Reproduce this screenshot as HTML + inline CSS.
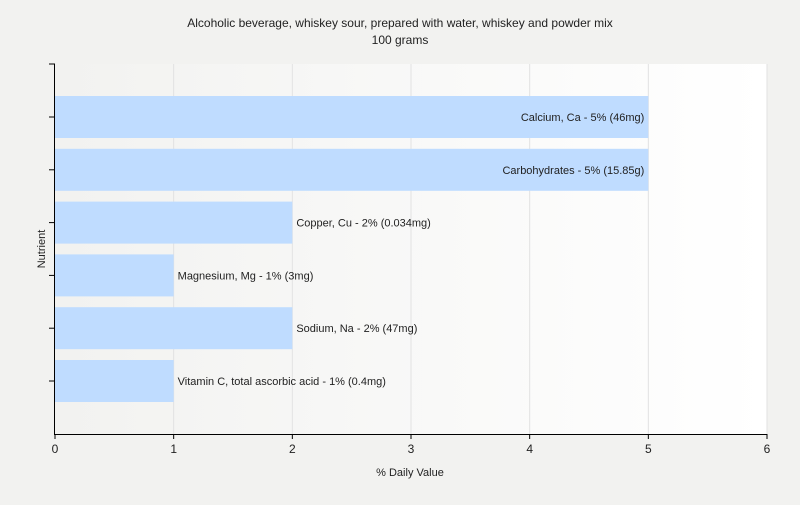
<!DOCTYPE html>
<html><head><meta charset="utf-8"><style>
body{margin:0;background:#f2f2f0;font-family:"Liberation Sans",Arial,sans-serif}
</style></head><body>
<svg id="c" width="800" height="500" xmlns="http://www.w3.org/2000/svg">
<defs><linearGradient id="g" x1="0" x2="1" y1="0" y2="0"><stop offset="0" stop-color="#f2f2f0"/><stop offset="1" stop-color="#ffffff"/></linearGradient></defs>
<rect x="0" y="0" width="800" height="500" fill="#f2f2f0"/>
<rect x="55" y="64" width="712" height="370" fill="url(#g)"/>
<text x="400" y="27" text-anchor="middle" font-size="12" fill="#222">Alcoholic beverage, whiskey sour, prepared with water, whiskey and powder mix</text>
<text x="400" y="44" text-anchor="middle" font-size="12" fill="#222">100 grams</text>
<text x="410" y="476" text-anchor="middle" font-size="11" fill="#222">% Daily Value</text>
<text transform="translate(45,249) rotate(-90)" text-anchor="middle" font-size="11" fill="#222">Nutrient</text>
<g id="grid"></g><g id="bars"></g><g id="axes"></g>
</svg>
<script>
const categories=["Calcium, Ca - 5% (46mg)","Carbohydrates - 5% (15.85g)","Copper, Cu - 2% (0.034mg)","Magnesium, Mg - 1% (3mg)","Sodium, Na - 2% (47mg)","Vitamin C, total ascorbic acid - 1% (0.4mg)"];
const values=[5,5,2,1,2,1];
const xTicks=[0,1,2,3,4,5,6];
const NS="http://www.w3.org/2000/svg";
const x0=55,x1=767,xMax=6,yTop=64,yBot=434,firstC=117,pitch=52.8,bh=42;
const xs=v=>x0+(x1-x0)*v/xMax;
const yc=i=>firstC+i*pitch;
function mk(t,a,p){const e=document.createElementNS(NS,t);for(const k in a)e.setAttribute(k,a[k]);p.appendChild(e);return e;}
const grid=document.getElementById('grid'),bars=document.getElementById('bars'),axes=document.getElementById('axes');
xTicks.forEach(t=>{
 if(t>0){const l=mk('line',{x1:xs(t),x2:xs(t),y1:yTop,y2:yBot,stroke:'#e2e2e2'},grid);
 
 }
 const k=mk('line',{x1:xs(t),x2:xs(t),y1:yBot,y2:yBot+5,stroke:'#000'},axes);
 
 
 const tx=mk('text',{x:xs(t),y:yBot+19,'text-anchor':'middle','font-size':12,fill:'#222'},axes);tx.textContent=t;
 
 
});
const ytk=[yTop].concat(categories.map((c,i)=>yc(i)));
ytk.forEach(y=>{const k=mk('line',{x1:49,x2:55,y1:y,y2:y,stroke:'#000'},axes);
 
 });
categories.forEach((c,i)=>{
 const w=xs(values[i])-x0;
 const r=mk('rect',{x:x0,y:yc(i)-bh/2,width:w,height:bh,fill:'#bfdcff'},bars);
 
 
 const inside=values[i]>=4;
 const t=mk('text',{x:inside?xs(values[i])-4:xs(values[i])+4,y:yc(i)+4,'text-anchor':inside?'end':'start','font-size':11,fill:'#222'},bars);
 t.textContent=c;
 
 
});
const ax=mk('line',{x1:54.5,x2:54.5,y1:yTop,y2:yBot,stroke:'#000'},axes);


const bx=mk('line',{x1:54,x2:x1,y1:yBot+0.5,y2:yBot+0.5,stroke:'#000'},axes);


</script>
</body></html>
